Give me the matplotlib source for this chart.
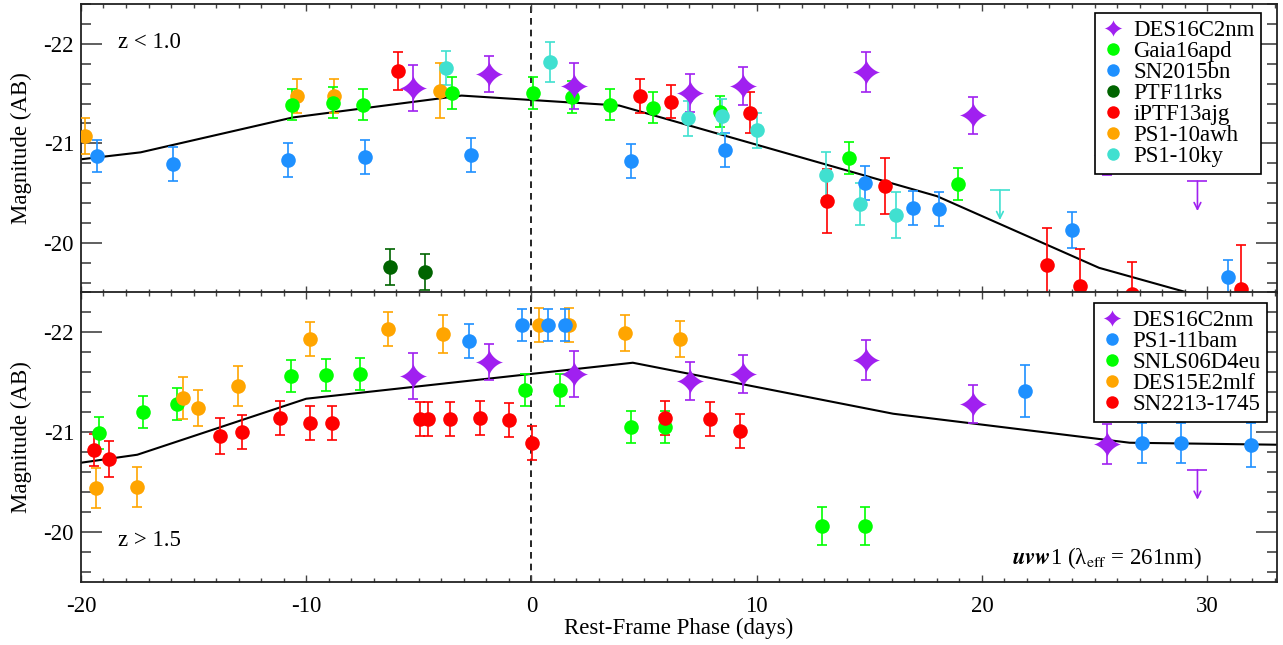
import numpy as np
import matplotlib
matplotlib.use("Agg")
import matplotlib.pyplot as plt
from matplotlib.lines import Line2D
from matplotlib.path import Path

plt.rcParams['font.family'] = ['Liberation Serif', 'DejaVu Serif']
plt.rcParams['mathtext.fontset'] = 'stix'

# ---- shared DES16C2nm photometry (both panels) ----
des_x = [-5.27, -1.87, 1.91, 7.05, 9.39, 14.84, 19.59, 25.54]
des_y = [-21.56, -21.70, -21.58, -21.51, -21.58, -21.72, -21.28, -20.88]
des_e = [0.23, 0.18, 0.23, 0.19, 0.19, 0.20, 0.19, 0.20]
des_lim_x = [29.57]
des_lim_y = [-20.62]

# ---- top panel: z < 1.0 ----
gaia_x = [-10.65, -8.83, -7.47, -3.54, 0.06, 1.81, 3.51, 5.39, 8.36, 14.09, 18.95]
gaia_y = [-21.39, -21.41, -21.39, -21.51, -21.51, -21.47, -21.39, -21.36, -21.32, -20.85, -20.59]
gaia_e = [0.16] * 11

sn15_x = [-19.3, -15.9, -10.81, -7.41, -2.68, 4.4, 8.58, 14.8, 16.95, 18.1, 23.99, 30.92]
sn15_y = [-20.87, -20.79, -20.83, -20.86, -20.88, -20.82, -20.93, -20.60, -20.35, -20.34, -20.13, -19.66]
sn15_e = [0.16, 0.17, 0.17, 0.17, 0.17, 0.17, 0.17, 0.17, 0.17, 0.17, 0.18, 0.17]

ptf_x = [-6.27, -4.73]
ptf_y = [-19.76, -19.71]
ptf_e = [0.18, 0.18]

iptf_x = [-5.91, 4.8, 6.21, 9.69, 13.13, 15.69, 22.87, 24.36, 26.65, 31.5]
iptf_y = [-21.73, -21.48, -21.42, -21.31, -20.42, -20.57, -19.78, -19.57, -19.49, -19.54]
iptf_e = [0.19, 0.17, 0.17, 0.21, 0.32, 0.28, 0.37, 0.37, 0.32, 0.44]

awh_x = [-19.82, -10.39, -8.76, -4.04]
awh_y = [-21.07, -21.48, -21.48, -21.53]
awh_e = [0.18, 0.17, 0.17, 0.28]

ky_x = [-3.79, 0.84, 6.95, 8.47, 10.03, 13.1, 14.58, 16.18]
ky_y = [-21.76, -21.82, -21.25, -21.27, -21.13, -20.68, -20.39, -20.28]
ky_e = [0.17, 0.20, 0.18, 0.18, 0.18, 0.23, 0.21, 0.23]
ky_lim_x = [20.8]
ky_lim_y = [-20.53]

top_tmpl_x = [-20.0, -17.35, -10.6, -3.1, 3.9, 18.0, 25.2, 33.1]
top_tmpl_y = [-20.84, -20.91, -21.26, -21.48, -21.38, -20.47, -19.75, -19.25]

# ---- bottom panel: z > 1.5 ----
bam_x = [-2.76, -0.41, 0.73, 1.51, 21.91, 27.1, 28.84, 31.96]
bam_y = [-21.91, -22.07, -22.07, -22.07, -21.41, -20.89, -20.89, -20.87]
bam_e = [0.17, 0.16, 0.16, 0.16, 0.26, 0.20, 0.20, 0.22]

snls_x = [-19.2, -17.24, -15.72, -10.68, -9.13, -7.6, -0.27, 1.27, 4.4, 5.91, 12.9, 14.83]
snls_y = [-20.99, -21.20, -21.28, -21.56, -21.57, -21.58, -21.42, -21.42, -21.05, -21.05, -20.06, -20.06]
snls_e = [0.16] * 10 + [0.19, 0.19]

mlf_x = [-19.35, -17.53, -15.47, -14.79, -13.01, -9.84, -6.37, -3.91, 0.33, 1.69, 4.16, 6.61]
mlf_y = [-20.44, -20.45, -21.34, -21.24, -21.46, -21.93, -22.03, -21.98, -22.07, -22.07, -21.99, -21.93]
mlf_e = [0.20, 0.20, 0.21, 0.18, 0.20, 0.17, 0.17, 0.19, 0.17, 0.17, 0.18, 0.18]

sn22_x = [-19.42, -18.76, -13.82, -12.83, -11.17, -9.84, -8.87, -4.95, -4.61, -3.6, -2.27, -0.98, 0.03, 5.94, 7.91, 9.24]
sn22_y = [-20.82, -20.73, -20.96, -21.0, -21.14, -21.09, -21.09, -21.13, -21.13, -21.13, -21.14, -21.12, -20.89, -21.14, -21.13, -21.01]
sn22_e = [0.16, 0.18, 0.18, 0.17, 0.17, 0.17, 0.17, 0.17, 0.17, 0.17, 0.17, 0.17, 0.17, 0.17, 0.17, 0.17]

bot_tmpl_x = [-20.0, -17.5, -10.0, 4.5, 16.06, 26.56, 33.1]
bot_tmpl_y = [-20.69, -20.77, -21.33, -21.69, -21.18, -20.89, -20.87]

PURPLE = '#A020F0'
GREEN = '#00FF00'
BLUE = '#1E90FF'
DKGREEN = '#006400'
RED = '#FF0000'
ORANGE = '#FFA500'
CYAN = '#40E0D0'

FS = 16.5

# four-point "sparkle" star
t = np.linspace(0, 2 * np.pi, 121)
sx = np.sign(np.cos(t)) * np.abs(np.cos(t)) ** 2.9
sy = 0.93 * np.sign(np.sin(t)) * np.abs(np.sin(t)) ** 2.9
STAR = Path(np.column_stack([sx, sy]), closed=True)


def points(ax, x, y, e, color, marker='o', ms=10.5):
    ax.errorbar(x, y, yerr=e, fmt='none', ecolor=color, elinewidth=1.2,
                capsize=3.6, capthick=1.2, zorder=3)
    ax.plot(x, y, linestyle='none', marker=marker, ms=ms, color=color,
            markeredgewidth=0, zorder=4)


def limits(ax, x, y, color):
    ax.plot(x, y, linestyle='none', marker='_', ms=15, mew=1.2, color=color, zorder=3)
    for xi, yi in zip(x, y):
        ax.annotate('', xy=(xi, yi + 0.3), xytext=(xi, yi),
                    arrowprops=dict(arrowstyle='->', color=color, lw=1.2,
                                    shrinkA=0, shrinkB=0, mutation_scale=12),
                    zorder=3)


def style(ax):
    ax.set_xlim(-20, 33.1)
    ax.set_ylim(-19.5, -22.4)
    ax.set_xticks([-20, -10, 0, 10, 20, 30])
    ax.set_xticks(np.arange(-20, 34, 1), minor=True)
    ax.set_yticks([-22, -21, -20])
    ax.set_yticks(np.arange(-22.4, -19.4, 0.2), minor=True)
    ax.tick_params(axis='both', which='both', direction='in', top=True, right=True,
                   labelsize=FS, color='#444444')
    ax.tick_params(axis='x', which='major', length=5, width=1, pad=10)
    ax.tick_params(axis='x', which='minor', length=3, width=1)
    ax.tick_params(axis='y', which='major', length=15, width=1.2, pad=5)
    ax.tick_params(axis='y', which='minor', length=7.5, width=1.2)
    ax.yaxis.set_major_formatter(plt.FuncFormatter(lambda v, p: '%d' % v))
    ax.xaxis.set_major_formatter(plt.FuncFormatter(lambda v, p: '%d' % v))
    for s in ax.spines.values():
        s.set_linewidth(1.3)
        s.set_color('#222222')
    ax.axvline(0, color='black', linestyle=(0, (4, 3)), linewidth=1.2, zorder=1)
    ax.set_ylabel('Magnitude (AB)', fontsize=FS, labelpad=8)


def legend(ax, entries, anchor):
    handles = []
    for label, color, marker, ms in entries:
        handles.append(Line2D([], [], linestyle='none', marker=marker, ms=ms,
                              color=color, markeredgewidth=0, label=label))
    leg = ax.legend(handles=handles, loc='upper right', bbox_to_anchor=anchor,
                    borderaxespad=0, fontsize=FS, labelspacing=0.0,
                    handlelength=0.9, handletextpad=0.45, borderpad=0.3,
                    fancybox=False, framealpha=1, edgecolor='black')
    leg.get_frame().set_linewidth(1.2)
    leg.set_zorder(10)


fig = plt.figure(figsize=(12.83, 6.45), dpi=100)
ax1 = fig.add_axes([0.0631, 0.5462, 0.9322, 0.4476])
ax2 = fig.add_axes([0.0631, 0.0981, 0.9322, 0.4496])

# top panel
ax1.plot(top_tmpl_x, top_tmpl_y, color='black', linewidth=1.5, zorder=2)
points(ax1, awh_x, awh_y, awh_e, ORANGE)
points(ax1, gaia_x, gaia_y, gaia_e, GREEN)
points(ax1, sn15_x, sn15_y, sn15_e, BLUE)
points(ax1, ptf_x, ptf_y, ptf_e, DKGREEN)
points(ax1, iptf_x, iptf_y, iptf_e, RED)
points(ax1, ky_x, ky_y, ky_e, CYAN)
points(ax1, des_x, des_y, des_e, PURPLE, marker=STAR, ms=20)
limits(ax1, ky_lim_x, ky_lim_y, CYAN)
limits(ax1, des_lim_x, des_lim_y, PURPLE)
style(ax1)
ax1.tick_params(axis='x', labelbottom=False)
ax1.text(0.031, 0.868, 'z < 1.0', transform=ax1.transAxes, fontsize=FS, va='center')
legend(ax1, [('DES16C2nm', PURPLE, STAR, 13), ('Gaia16apd', GREEN, 'o', 9),
             ('SN2015bn', BLUE, 'o', 9), ('PTF11rks', DKGREEN, 'o', 9),
             ('iPTF13ajg', RED, 'o', 9), ('PS1-10awh', ORANGE, 'o', 9),
             ('PS1-10ky', CYAN, 'o', 9)], (0.987, 0.968))

# bottom panel
ax2.plot(bot_tmpl_x, bot_tmpl_y, color='black', linewidth=1.5, zorder=2)
points(ax2, snls_x, snls_y, snls_e, GREEN)
points(ax2, mlf_x, mlf_y, mlf_e, ORANGE)
points(ax2, bam_x, bam_y, bam_e, BLUE)
points(ax2, sn22_x, sn22_y, sn22_e, RED)
points(ax2, des_x, des_y, des_e, PURPLE, marker=STAR, ms=20)
limits(ax2, des_lim_x, des_lim_y, PURPLE)
style(ax2)
ax2.set_xlabel('Rest-Frame Phase (days)', fontsize=FS, labelpad=1)
ax2.text(0.031, 0.141, 'z > 1.5', transform=ax2.transAxes, fontsize=FS, va='center')
ax2.text(0.937, 0.081, r'$\mathbfit{uvw}$1 (λ$_{\rm eff}$ = 261nm)',
         transform=ax2.transAxes, fontsize=FS, va='center', ha='right')
legend(ax2, [('DES16C2nm', PURPLE, STAR, 13), ('PS1-11bam', BLUE, 'o', 9),
             ('SNLS06D4eu', GREEN, 'o', 9), ('DES15E2mlf', ORANGE, 'o', 9),
             ('SN2213-1745', RED, 'o', 9)], (0.992, 0.962))

fig.savefig('out.png', dpi=100)
